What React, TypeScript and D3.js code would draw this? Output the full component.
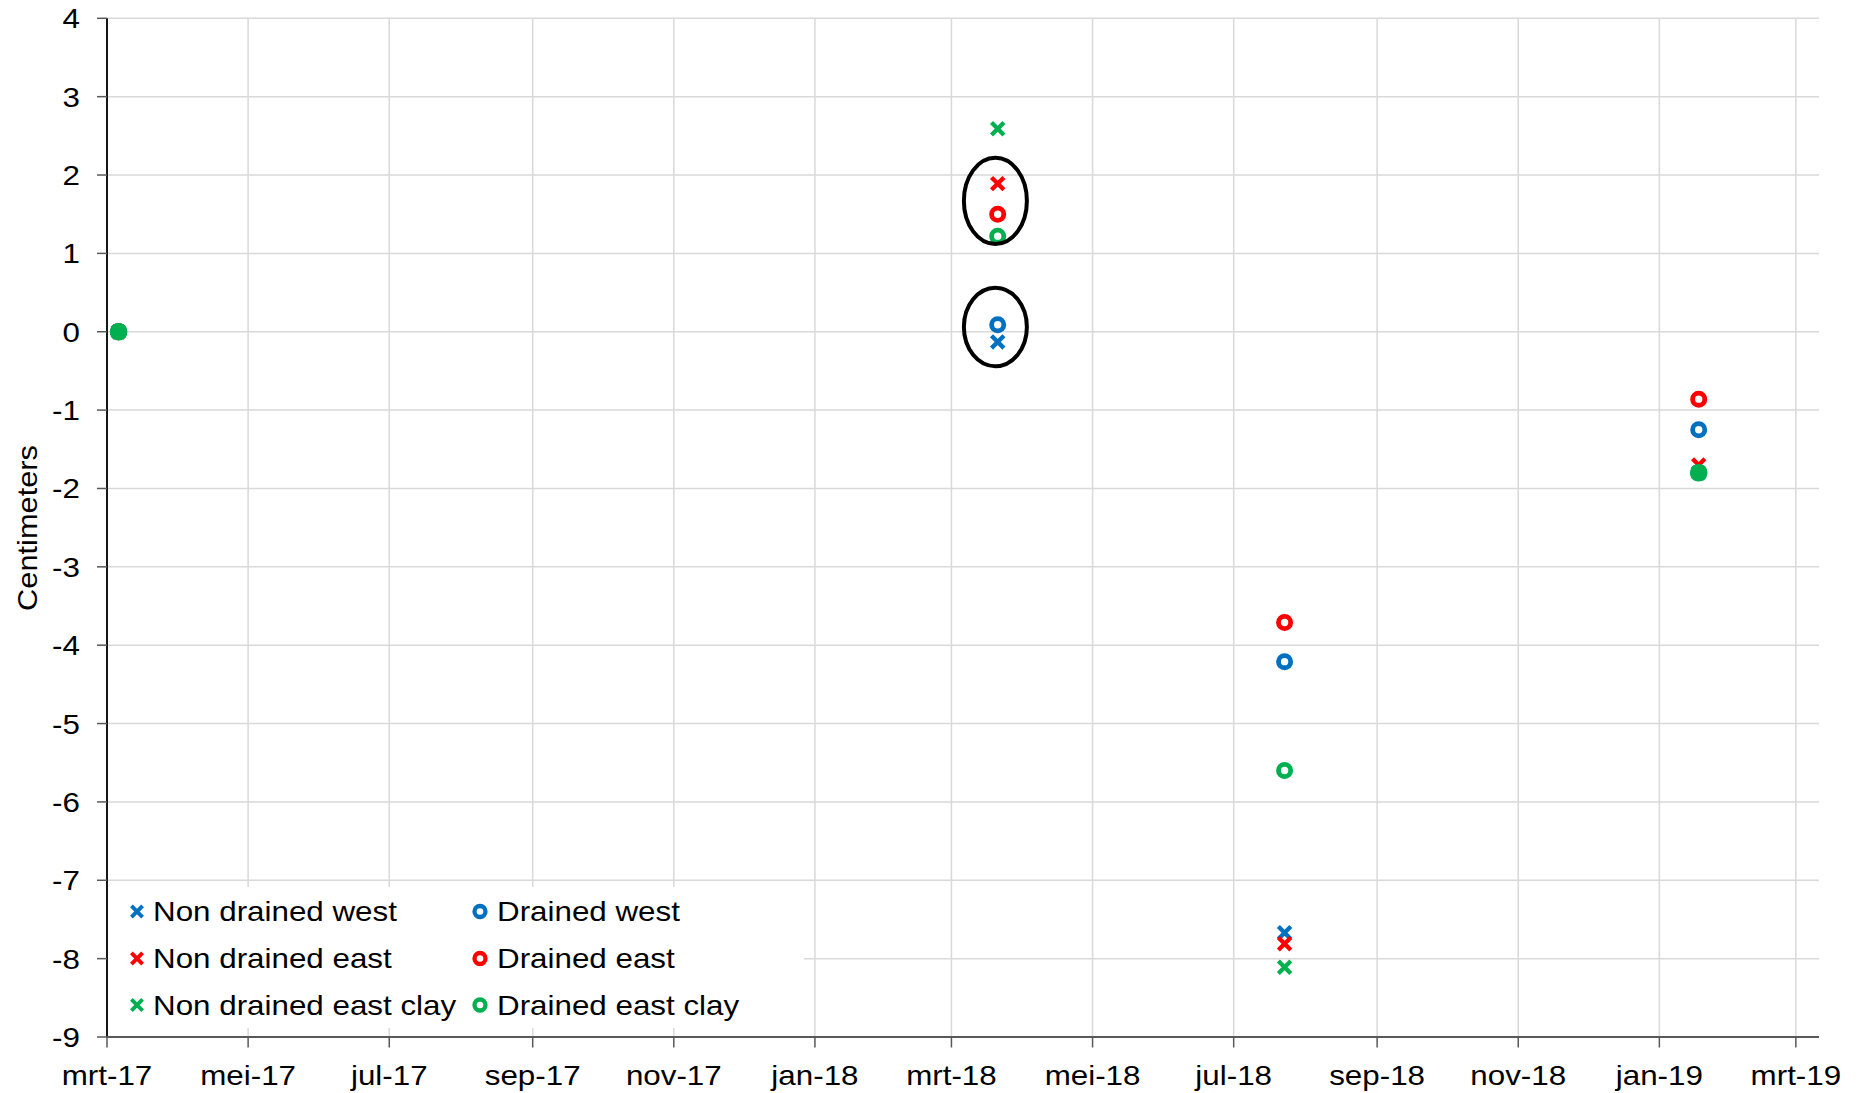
import React from "react";
import * as d3 from "d3";

const W = 1858;
const H = 1093;

const sampleDates = ["2017-03-06", "2018-03-21", "2018-07-23", "2019-01-18"];
const nonDrainedWest = [0, -0.13, -7.67, -1.8];
const nonDrainedEast = [0, 1.89, -7.81, -1.7];
const nonDrainedEastClay = [0, 2.59, -8.11, -1.8];
const drainedWest = [0, 0.09, -4.21, -1.25];
const drainedEast = [0, 1.5, -3.71, -0.86];
const drainedEastClay = [0, 1.22, -5.6, -1.8];
const filledDates = ["2017-03-06", "2019-01-18"];
const filledValues = [0, -1.8];

const xTickDates = [
  "2017-03-01", "2017-05-01", "2017-07-01", "2017-09-01", "2017-11-01",
  "2018-01-01", "2018-03-01", "2018-05-01", "2018-07-01", "2018-09-01",
  "2018-11-01", "2019-01-01", "2019-03-01",
];
const xTickLabels = [
  "mrt-17", "mei-17", "jul-17", "sep-17", "nov-17", "jan-18", "mrt-18",
  "mei-18", "jul-18", "sep-18", "nov-18", "jan-19", "mrt-19",
];
const yTicks = [4, 3, 2, 1, 0, -1, -2, -3, -4, -5, -6, -7, -8, -9];

// highlight ellipses (annotation): date, low value, high value
const ellipseDate = "2018-03-20";
const ellipseLow = [1.12, -0.44];
const ellipseHigh = [2.22, 0.56];

const parse = d3.utcParse("%Y-%m-%d");

const BLUE = "#0070C0";
const RED = "#FF0000";
const GREEN = "#00B050";

type Series = { name: string; values: number[]; color: string; shape: "x" | "o" };
const seriesList: Series[] = [
  { name: "Non drained west", values: nonDrainedWest, color: BLUE, shape: "x" },
  { name: "Drained west", values: drainedWest, color: BLUE, shape: "o" },
  { name: "Non drained east", values: nonDrainedEast, color: RED, shape: "x" },
  { name: "Drained east", values: drainedEast, color: RED, shape: "o" },
  { name: "Non drained east clay", values: nonDrainedEastClay, color: GREEN, shape: "x" },
  { name: "Drained east clay", values: drainedEastClay, color: GREEN, shape: "o" },
];

const FONT = "'Liberation Sans', Arial, sans-serif";
const SX = 1.17;
const FS = 26.8;

function SText(props: {
  x: number; y: number; anchor?: string; size?: number; sx?: number; rotate?: boolean; children: any;
}) {
  const { x, y, anchor = "start", size = FS, sx = SX, rotate = false, children } = props;
  return (
    <text
      transform={`translate(${x},${y})${rotate ? " rotate(-90)" : ""} scale(${sx},1)`}
      textAnchor={anchor}
      fontSize={size}
      fontFamily={FONT}
      fill="#000"
    >
      {children}
    </text>
  );
}

function Marker(props: { shape: "x" | "o"; color: string; cx: number; cy: number; k?: number }) {
  const { shape, color, cx, cy, k = 1 } = props;
  if (shape === "o") {
    return <circle cx={cx} cy={cy} r={6.1 * k} fill="none" stroke={color} strokeWidth={4.8 * k} />;
  }
  const h = 6.2 * k;
  return (
    <path
      d={`M${cx - h},${cy - h}L${cx + h},${cy + h}M${cx - h},${cy + h}L${cx + h},${cy - h}`}
      stroke={color}
      strokeWidth={4.3 * k}
      fill="none"
    />
  );
}

export default function App() {
  const x = d3
    .scaleUtc()
    .domain([parse("2017-03-01")!, parse("2019-03-11")!])
    .range([107, 1819]);
  const y = d3.scaleLinear().domain([-9, 4]).range([1037, 18.3]);

  const legendCol1 = seriesList.filter((s) => s.shape === "x");
  const legendCol2 = seriesList.filter((s) => s.shape === "o");
  const legendRows = [911.5, 958.5, 1005];

  return (
    <svg
      width={W}
      height={H}
      style={{ position: "absolute", left: 0, top: 0, background: "#fff" }}
    >
      <rect x={0} y={0} width={W} height={H} fill="#fff" />
      {/* gridlines */}
      {yTicks.map((t) => (
        <line key={"gy" + t} x1={107} x2={1819} y1={y(t)} y2={y(t)} stroke="#D9D9D9" strokeWidth={1.5} />
      ))}
      {xTickDates.map((d) => (
        <line key={"gx" + d} x1={x(parse(d)!)} x2={x(parse(d)!)} y1={y(4)} y2={y(-9)} stroke="#D9D9D9" strokeWidth={1.5} />
      ))}

      {/* y axis */}
      <line x1={107} x2={107} y1={y(4)} y2={y(-9)} stroke="#000" strokeWidth={1.8} />
      {yTicks.map((t) => (
        <g key={"yt" + t}>
          <line x1={97} x2={107} y1={y(t)} y2={y(t)} stroke="#595959" strokeWidth={1.5} />
          <SText x={80} y={y(t) + 10} anchor="end">{String(t)}</SText>
        </g>
      ))}

      {/* x axis */}
      <line x1={107} x2={1819} y1={y(-9)} y2={y(-9)} stroke="#595959" strokeWidth={2} />
      {xTickDates.map((d, i) => (
        <g key={"xt" + d}>
          <line x1={x(parse(d)!)} x2={x(parse(d)!)} y1={y(-9)} y2={y(-9) + 10.5} stroke="#595959" strokeWidth={1.5} />
          <SText x={x(parse(d)!)} y={1085} anchor="middle">{xTickLabels[i]}</SText>
        </g>
      ))}

      {/* axis title */}
      <SText x={37} y={528} anchor="middle" rotate size={28.5} sx={1.08}>Centimeters</SText>

      {/* data */}
      {seriesList.map((s) => (
        <g key={s.name}>
          {s.values.map((v, i) => (
            <Marker key={i} shape={s.shape} color={s.color} cx={x(parse(sampleDates[i])!)} cy={y(v)} />
          ))}
        </g>
      ))}
      {filledValues.map((v, i) => (
        <circle key={"f" + i} cx={x(parse(filledDates[i])!)} cy={y(v)} r={8.8} fill={GREEN} />
      ))}

      {/* highlight ellipses */}
      {ellipseLow.map((lo, i) => {
        const cy = (y(lo) + y(ellipseHigh[i])) / 2;
        const ry = (y(lo) - y(ellipseHigh[i])) / 2;
        return (
          <ellipse key={"e" + i} cx={x(parse(ellipseDate)!)} cy={cy} rx={31.5} ry={ry} fill="none" stroke="#000" strokeWidth={4} />
        );
      })}

      {/* legend */}
      <rect x={108} y={887} width={696} height={141} fill="#fff" />
      {legendCol1.map((s, i) => (
        <g key={"l1" + s.name}>
          <Marker shape={s.shape} color={s.color} cx={137} cy={legendRows[i]} k={0.9} />
          <SText x={153} y={legendRows[i] + 9.5}>{s.name}</SText>
        </g>
      ))}
      {legendCol2.map((s, i) => (
        <g key={"l2" + s.name}>
          <Marker shape={s.shape} color={s.color} cx={480} cy={legendRows[i]} k={0.9} />
          <SText x={497} y={legendRows[i] + 9.5}>{s.name}</SText>
        </g>
      ))}
    </svg>
  );
}
